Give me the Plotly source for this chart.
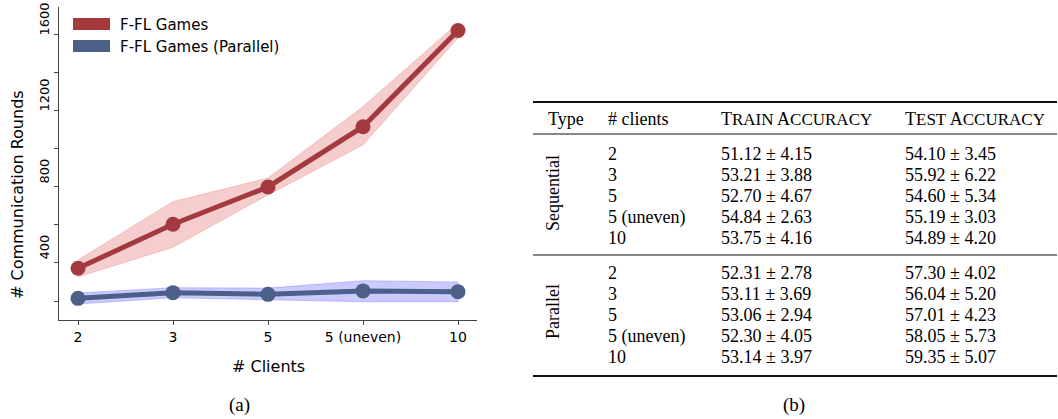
import plotly.graph_objects as go

# ---------------- data ----------------
categories = ["2", "3", "5", "5 (uneven)", "10"]
series_names = ["F-FL Games", "F-FL Games (Parallel)"]
rounds_seq = [372, 604, 800, 1117, 1623]
rounds_seq_upper = [416, 723, 847, 1223, 1663]
rounds_seq_lower = [326, 483, 758, 1021, 1584]
rounds_par = [214, 244, 235, 253, 249]
rounds_par_upper = [242, 270, 268, 307, 300]
rounds_par_lower = [184, 217, 205, 196, 196]
y_tick_vals = [400, 800, 1200, 1600]
y_minor_vals = [200, 600, 1000, 1400]

table_groups = ["Sequential", "Parallel"]
table_clients = ["2", "3", "5", "5 (uneven)", "10"]
train_seq_mean = [51.12, 53.21, 52.70, 54.84, 53.75]
train_seq_std = [4.15, 3.88, 4.67, 2.63, 4.16]
test_seq_mean = [54.10, 55.92, 54.60, 55.19, 54.89]
test_seq_std = [3.45, 6.22, 5.34, 3.03, 4.20]
train_par_mean = [52.31, 53.11, 53.06, 52.30, 53.14]
train_par_std = [2.78, 3.69, 2.94, 4.05, 3.97]
test_par_mean = [57.30, 56.04, 57.01, 58.05, 59.35]
test_par_std = [4.02, 5.20, 4.23, 5.73, 5.07]

# ---------------- styling ----------------
W, H = 1058, 419
ML, MR, MT, MB = 59, 581, 7, 99
PW, PH = W - ML - MR, H - MT - MB
RED, BLUE = "#a33a40", "#4b5f87"
SANS = "DejaVu Sans"
SERIF = "Liberation Serif"


def px(x):
    return (x - ML) / PW


def py(y):
    return (H - MB - y) / PH


def label(text, x, y, size, family, xanchor="center", angle=0):
    return dict(text=text, x=px(x), y=py(y), xref="paper", yref="paper",
                xanchor=xanchor, yanchor="middle", textangle=angle, showarrow=False,
                font=dict(family=family, size=size, color="black"))


xs = list(range(len(categories)))
fig = go.Figure()

# bands
fig.add_trace(go.Scatter(x=xs + xs[::-1], y=rounds_seq_upper + rounds_seq_lower[::-1],
                         fill="toself", fillcolor="rgba(225,90,90,0.30)",
                         line=dict(color="rgba(225,90,90,0.25)", width=1),
                         mode="lines", hoverinfo="skip", showlegend=False))
fig.add_trace(go.Scatter(x=xs + xs[::-1], y=rounds_par_upper + rounds_par_lower[::-1],
                         fill="toself", fillcolor="rgba(60,60,255,0.27)",
                         line=dict(color="rgba(60,60,255,0.25)", width=1),
                         mode="lines", hoverinfo="skip", showlegend=False))
# lines
fig.add_trace(go.Scatter(x=xs, y=rounds_seq, mode="lines+markers", name=series_names[0],
                         line=dict(color=RED, width=5), marker=dict(size=15, color=RED),
                         showlegend=False))
fig.add_trace(go.Scatter(x=xs, y=rounds_par, mode="lines+markers", name=series_names[1],
                         line=dict(color=BLUE, width=5), marker=dict(size=15, color=BLUE),
                         showlegend=False))

axis_col = "#444444"
fig.update_xaxes(range=[-0.2, 4.2], tickvals=xs, ticktext=categories, showgrid=False,
                 zeroline=False, showline=True, linecolor=axis_col, linewidth=1,
                 ticks="outside", ticklen=4, tickcolor=axis_col, automargin=False,
                 tickfont=dict(family=SANS, size=14, color="black"))
fig.update_yaxes(range=[100, 1747], tickvals=y_tick_vals, showgrid=False, zeroline=False,
                 showline=True, linecolor=axis_col, linewidth=1, ticks="outside",
                 ticklen=4, tickcolor=axis_col, tickangle=-90, ticklabelshift=-14,
                 automargin=False,
                 tickfont=dict(family=SANS, size=13, color="black"),
                 minor=dict(tickvals=y_minor_vals, ticks="outside", ticklen=4,
                            tickcolor=axis_col))

annotations = []
shapes = []

# axis titles
annotations.append(label("# Clients", 268, 366, 16, SANS))
annotations.append(label("# Communication Rounds", 17, 195, 16, SANS, angle=-90))

# legend
for i, (name, col) in enumerate(zip(series_names, [RED, BLUE])):
    yc = 24 + i * 22
    shapes.append(dict(type="rect", xref="paper", yref="paper", x0=px(73), x1=px(110),
                       y0=py(yc - 6), y1=py(yc + 6), fillcolor=col, line=dict(width=0)))
    annotations.append(label(name, 118, yc + 1, 15, SANS, xanchor="left"))

# captions
annotations.append(label("(a)", 239, 405, 19, SERIF))
annotations.append(label("(b)", 794, 405, 19, SERIF))

# ---------------- table ----------------
TX0, TX1 = 533, 1057
for yline, w in [(102, 2), (134, 1.2), (255, 1.2), (376, 2)]:
    shapes.append(dict(type="line", xref="paper", yref="paper", x0=px(TX0), x1=px(TX1),
                       y0=py(yline), y1=py(yline), line=dict(color="#111111", width=w)))

FS = 18
SC = 17


def sc(word):
    return word[0] + f"<span style='font-size:{SC}px'>{word[1:]}</span>"


col_x = [546, 606, 719, 903]
headers = ["Type", "# clients", sc("TRAIN") + " " + sc("ACCURACY"),
           sc("TEST") + " " + sc("ACCURACY")]
for cx, h in zip(col_x, headers):
    annotations.append(label(h, cx, 119, FS, SERIF, xanchor="left"))

group_rows = [[154, 175, 196, 217, 238], [273, 294, 315, 336, 357]]
group_data = [(train_seq_mean, train_seq_std, test_seq_mean, test_seq_std),
              (train_par_mean, train_par_std, test_par_mean, test_par_std)]
for g, (gname, rows, data) in enumerate(zip(table_groups, group_rows, group_data)):
    annotations.append(label(gname, 553, sum(rows) / len(rows) - 3, FS, SERIF, angle=-90))
    trm, trs, tem, tes = data
    for i, ry in enumerate(rows):
        cells = [table_clients[i], f"{trm[i]:.2f} ± {trs[i]:.2f}",
                 f"{tem[i]:.2f} ± {tes[i]:.2f}"]
        for cx, c in zip(col_x[1:], cells):
            annotations.append(label(c, cx, ry, FS, SERIF, xanchor="left"))

fig.update_layout(width=W, height=H, margin=dict(l=ML, r=MR, t=MT, b=MB),
                  plot_bgcolor="white", paper_bgcolor="white",
                  annotations=annotations, shapes=shapes, showlegend=False)

fig.write_html("out.html", config={"displayModeBar": False},
               post_script="document.body.style.margin='0';document.body.style.padding='0';")
